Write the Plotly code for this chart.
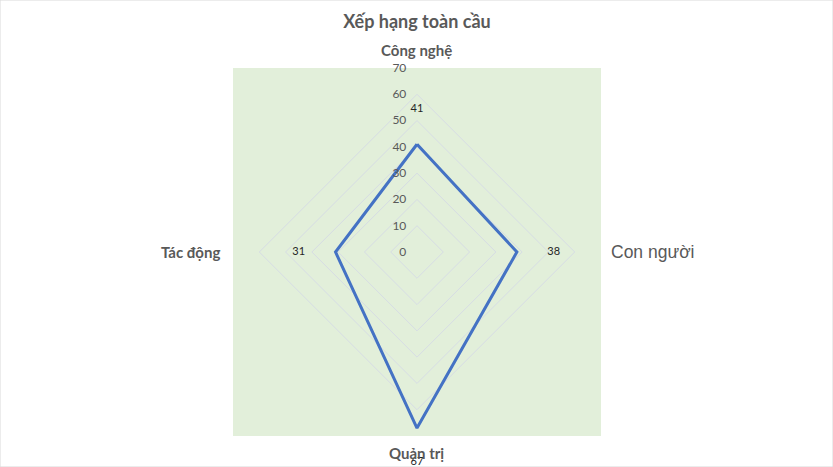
import plotly.graph_objects as go

# data
categories = ['Công nghệ', 'Con người', 'Quản trị', 'Tác động']
scores = [41, 38, 67, 31]
radial_ticks = [0, 10, 20, 30, 40, 50, 60, 70]

r_closed = scores + scores[:1]
theta_closed = categories + categories[:1]

fig = go.Figure()

fig.add_trace(go.Scatterpolar(
    r=r_closed,
    theta=theta_closed,
    mode='lines',
    line=dict(color='#4472C4', width=3),
    hoverinfo='skip',
    showlegend=False
))

# data labels: invisible markers push the text outward from each point
fig.add_trace(go.Scatterpolar(
    r=scores,
    theta=categories,
    mode='markers+text',
    marker=dict(size=[46, 47, 44, 47], color='rgba(0,0,0,0)',
                line=dict(width=0, color='rgba(0,0,0,0)')),
    text=[str(v) for v in scores],
    textposition=['top center', 'middle right', 'bottom center', 'middle left'],
    textfont=dict(family='Lato', size=11, color='#262626'),
    cliponaxis=False,
    hoverinfo='skip',
    showlegend=False
))

fig.update_layout(
    width=833,
    height=467,
    margin=dict(l=0, r=0, t=0, b=0),
    paper_bgcolor='white',
    plot_bgcolor='white',
    font=dict(family='Lato', color='#595959'),
    title=dict(
        text='<b>Xếp hạng toàn cầu</b>',
        x=0.5006, y=0.953, xanchor='center', yanchor='middle',
        font=dict(family='Lato', size=18, color='#595959')
    ),
    polar=dict(
        domain=dict(x=[233 / 833, 601 / 833], y=[31 / 467, 399 / 467]),
        bgcolor='rgba(0,0,0,0)',
        gridshape='linear',
        radialaxis=dict(
            range=[0, 70],
            tickvals=radial_ticks,
            angle=90,
            side='counterclockwise',
            tickangle=90,
            showline=False,
            ticks='outside',
            ticklen=6,
            tickcolor='rgba(0,0,0,0)',
            gridcolor='#D6DCE4',
            gridwidth=1,
            tickfont=dict(family='Lato', size=12, color='#595959')
        ),
        angularaxis=dict(
            rotation=90,
            direction='clockwise',
            showgrid=False,
            showline=False,
            showticklabels=False,
            ticks=''
        )
    ),
    shapes=[
        dict(type='rect', xref='paper', yref='paper',
             x0=233 / 833, x1=601 / 833, y0=31 / 467, y1=399 / 467,
             fillcolor='#E2EFDA', line=dict(width=0), layer='below'),
        dict(type='rect', xref='paper', yref='paper',
             x0=0, x1=1, y0=0, y1=1,
             fillcolor='rgba(0,0,0,0)', line=dict(color='#D9D9D9', width=1))
    ],
    annotations=[
        dict(text='<b>Công nghệ</b>', x=0.5006, y=0.893, xref='paper', yref='paper',
             xanchor='center', yanchor='middle', showarrow=False,
             font=dict(family='Lato', size=15, color='#595959')),
        dict(text='Con người', x=609 / 833, y=0.4604, xref='paper', yref='paper',
             xanchor='left', yanchor='middle', showarrow=False,
             font=dict(family='Liberation Sans', size=17.5, color='#595959')),
        dict(text='<b>Quản trị</b>', x=0.5006, y=0.030, xref='paper', yref='paper',
             xanchor='center', yanchor='middle', showarrow=False,
             font=dict(family='Lato', size=15, color='#595959')),
        dict(text='<b>Tác động</b>', x=222 / 833, y=0.4604, xref='paper', yref='paper',
             xanchor='right', yanchor='middle', showarrow=False,
             font=dict(family='Lato', size=15, color='#595959')),
    ]
)

fig.write_html("out.html", config={'displayModeBar': False},
               post_script="document.body.style.margin='0';")
